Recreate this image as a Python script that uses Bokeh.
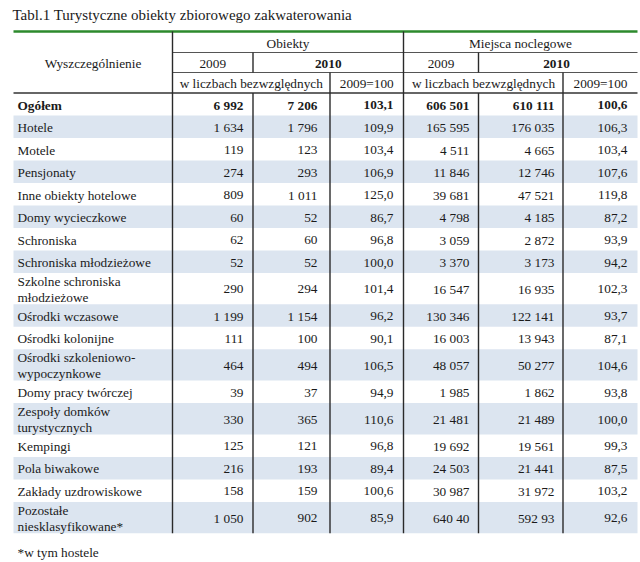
from bokeh.plotting import figure
from bokeh.models import Range1d, ColumnDataSource
from bokeh.core.properties import value
from bokeh.embed import file_html
from bokeh.resources import INLINE

# ---------------- data ----------------
title_text = "Tabl.1 Turystyczne obiekty zbiorowego zakwaterowania"
stub_header = "Wyszczególnienie"
group_labels = ["Obiekty", "Miejsca noclegowe"]
year_labels = ["2009", "2010"]
sub_labels = ["w liczbach bezwzględnych", "2009=100"]
footnote = "*w tym hostele"

categories = [
    "Ogółem", "Hotele", "Motele", "Pensjonaty", "Inne obiekty hotelowe",
    "Domy wycieczkowe", "Schroniska", "Schroniska młodzieżowe",
    "Szkolne schroniska\nmłodzieżowe", "Ośrodki wczasowe", "Ośrodki kolonijne",
    "Ośrodki szkoleniowo-\nwypoczynkowe", "Domy pracy twórczej",
    "Zespoły domków\nturystycznych", "Kempingi", "Pola biwakowe",
    "Zakłady uzdrowiskowe", "Pozostałe\nniesklasyfikowane*",
]
obiekty_2009 = ["6 992", "1 634", "119", "274", "809", "60", "62", "52", "290",
                "1 199", "111", "464", "39", "330", "125", "216", "158", "1 050"]
obiekty_2010 = ["7 206", "1 796", "123", "293", "1 011", "52", "60", "52", "294",
                "1 154", "100", "494", "37", "365", "121", "193", "159", "902"]
obiekty_idx = ["103,1", "109,9", "103,4", "106,9", "125,0", "86,7", "96,8", "100,0", "101,4",
               "96,2", "90,1", "106,5", "94,9", "110,6", "96,8", "89,4", "100,6", "85,9"]
miejsca_2009 = ["606 501", "165 595", "4 511", "11 846", "39 681", "4 798", "3 059", "3 370",
                "16 547", "130 346", "16 003", "48 057", "1 985", "21 481", "19 692",
                "24 503", "30 987", "640 40"]
miejsca_2010 = ["610 111", "176 035", "4 665", "12 746", "47 521", "4 185", "2 872", "3 173",
                "16 935", "122 141", "13 943", "50 277", "1 862", "21 489", "19 561",
                "21 441", "31 972", "592 93"]
miejsca_idx = ["100,6", "106,3", "103,4", "107,6", "119,8", "87,2", "93,9", "94,2", "102,3",
               "93,7", "87,1", "104,6", "93,8", "100,0", "99,3", "87,5", "103,2", "92,6"]

columns = [obiekty_2009, obiekty_2010, obiekty_idx, miejsca_2009, miejsca_2010, miejsca_idx]

# ---------------- layout (page pixel coordinates) ----------------
FONT = value("Liberation Serif")
FS = "13.3px"
TXT = "#1a1a1a"
SHADE = "#dce5f0"
LEFT, RIGHT = 13, 637
X_STUB, X_GRP, X_A, X_B, X_C, X_D = 172, 403, 252.5, 329.5, 478, 562.5
Y_GREEN, Y_H1, Y_H2, Y_H3 = 31, 52, 72, 92.5
H1, H2 = 22.5, 31.3
DY = 0.8  # optical centring of text in rows
col_right = [243, 317, 393, 469, 554, 627]

p = figure(width=640, height=562, x_range=Range1d(0, 640), y_range=Range1d(562, 0),
           toolbar_location=None, output_backend="svg", min_border=0)
p.axis.visible = False
p.grid.visible = False
p.outline_line_color = None
p.background_fill_color = "white"
p.border_fill_color = "white"

# row geometry
tops, bots = [], []
y = Y_H3
for c in categories:
    h = H2 if "\n" in c else H1
    tops.append(y)
    bots.append(y + h)
    y += h
mids = [(t + b) / 2 + DY for t, b in zip(tops, bots)]
table_bottom = bots[-1]

# shading of alternate rows
sh_t = [tops[i] for i in range(len(categories)) if i % 2 == 1]
sh_b = [bots[i] for i in range(len(categories)) if i % 2 == 1]
p.quad(left=LEFT, right=RIGHT, top=sh_t, bottom=sh_b, fill_color=SHADE, line_color=None)

# title
p.text(x=[12], y=[14], text=[title_text], text_font=FONT, text_font_size="15px",
       text_color=TXT, text_baseline="middle", text_align="left")

# green rule
p.segment(x0=[LEFT], y0=[Y_GREEN], x1=[RIGHT], y1=[Y_GREEN], line_color="#2d8a2d", line_width=2.5)

# header horizontal lines
p.segment(x0=[X_STUB, X_STUB], y0=[Y_H1, Y_H2], x1=[RIGHT, RIGHT], y1=[Y_H1, Y_H2],
          line_color="#555555", line_width=1)
p.segment(x0=[LEFT], y0=[Y_H3], x1=[RIGHT], y1=[Y_H3], line_color="#333333", line_width=1.6)

# vertical lines
vx0 = [X_STUB, X_GRP, X_A, X_A, X_C, X_C, X_B, X_D]
vy0 = [Y_GREEN, Y_GREEN, Y_H1, Y_H3, Y_H1, Y_H3, Y_H2, Y_H2]
vy1 = [table_bottom, table_bottom, Y_H2, table_bottom, Y_H2, table_bottom, table_bottom, table_bottom]
p.segment(x0=vx0, y0=vy0, x1=vx0, y1=vy1, line_color="#2a2a2a", line_width=1.4)

# header texts
hdr = ColumnDataSource(dict(
    x=[(LEFT + X_STUB) / 2, (X_STUB + X_GRP) / 2, 520, (X_STUB + X_A) / 2, (X_GRP + X_C) / 2,
       (X_STUB + X_B) / 2, (X_B + X_GRP) / 2, 483, 600],
    y=[63, 42.5, 42.5, 63, 63, 83, 83, 83, 83],
    t=[stub_header, group_labels[0], group_labels[1], year_labels[0], year_labels[0],
       sub_labels[0], sub_labels[1], sub_labels[0], sub_labels[1]],
))
p.text(x="x", y="y", text="t", source=hdr, text_font=FONT, text_font_size=FS,
       text_color=TXT, text_align="center", text_baseline="middle")
p.text(x=[(X_A + X_GRP) / 2, 556], y=[63, 63], text=[year_labels[1], year_labels[1]],
       text_font=FONT, text_font_size=FS, text_font_style="bold",
       text_color=TXT, text_align="center", text_baseline="middle")

# row labels
p.text(x=[17] * (len(categories) - 1), y=mids[1:], text=categories[1:], text_font=FONT,
       text_font_size=FS, text_color=TXT, text_align="left", text_baseline="middle",
       text_line_height=1.05)
p.text(x=[17], y=[mids[0]], text=[categories[0]], text_font=FONT, text_font_size=FS,
       text_font_style="bold", text_color=TXT, text_align="left", text_baseline="middle")

# values
for col, xr in zip(columns, col_right):
    p.text(x=[xr] * (len(col) - 1), y=mids[1:], text=col[1:], text_font=FONT, text_font_size=FS,
           text_color=TXT, text_align="right", text_baseline="middle")
    p.text(x=[xr], y=[mids[0]], text=[col[0]], text_font=FONT, text_font_size=FS,
           text_font_style="bold", text_color=TXT, text_align="right", text_baseline="middle")

# footnote
p.text(x=[17], y=[552], text=[footnote], text_font=FONT, text_font_size=FS,
       text_color=TXT, text_align="left", text_baseline="middle")

open("out.html", "w").write(file_html(p, INLINE))
